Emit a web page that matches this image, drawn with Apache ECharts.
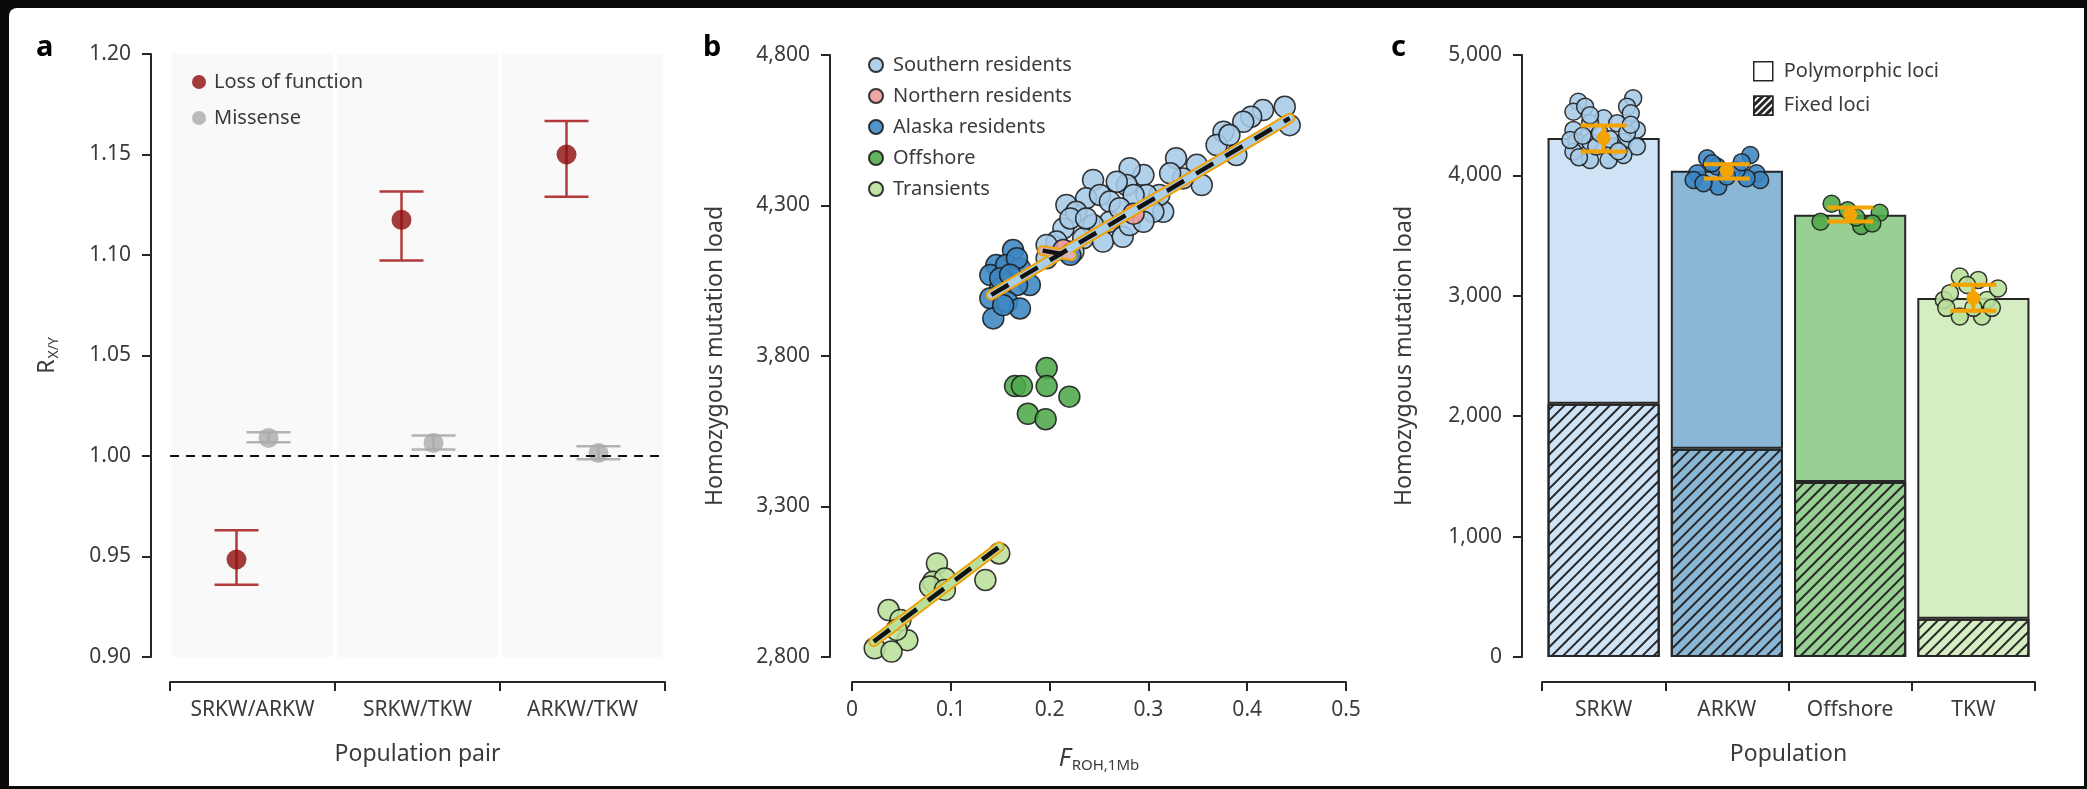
<!DOCTYPE html>
<html style="height: 100%">
<head>
<meta charset="utf-8">
<title>Homozygous mutation load</title>
<script src="https://cdn.jsdelivr.net/npm/echarts/dist/echarts.min.js"></script>
</head>
<body style="height: 100%; margin: 0; background: #0a0a0a">
<div id="target" style="width: 2087px; height: 789px"></div>
<script>

// ---- panel a : R X/Y per population pair
const pairs = ['SRKW/ARKW', 'SRKW/TKW', 'ARKW/TKW'];
const lofMean = [0.9485, 1.1175, 1.150];
const lofLow = [0.936, 1.0973, 1.129];
const lofHigh = [0.963, 1.1316, 1.1667];
const misMean = [1.009, 1.0065, 1.0015];
const misLow = [1.0068, 1.0032, 0.9984];
const misHigh = [1.0118, 1.0102, 1.0048];

// ---- panel b : F_ROH vs homozygous load
const southern = [
    [0.438, 4628], [0.443, 4567], [0.416, 4617], [0.404, 4595], [0.396, 4578], [0.376, 4545],
    [0.369, 4501], [0.389, 4468], [0.382, 4534], [0.328, 4457], [0.349, 4435], [0.354, 4368],
    [0.335, 4390], [0.322, 4407], [0.315, 4279], [0.311, 4335], [0.295, 4401], [0.281, 4424],
    [0.298, 4335], [0.278, 4368], [0.268, 4379], [0.244, 4385], [0.237, 4324], [0.217, 4302],
    [0.227, 4279], [0.251, 4335], [0.261, 4313], [0.285, 4335], [0.305, 4279], [0.261, 4246],
    [0.244, 4235], [0.214, 4224], [0.207, 4180], [0.197, 4169], [0.234, 4191], [0.254, 4180],
    [0.274, 4196], [0.281, 4235], [0.295, 4246], [0.271, 4291], [0.221, 4257], [0.237, 4257],
    [0.197, 4125], [0.224, 4147]
];
const northern = [[0.285, 4273], [0.214, 4152]];
const alaska = [
    [0.163, 4152], [0.146, 4102], [0.140, 4069], [0.156, 4102], [0.170, 4091], [0.180, 4036],
    [0.167, 4036], [0.150, 4025], [0.140, 3992], [0.157, 3980], [0.170, 3958], [0.143, 3925],
    [0.153, 3969], [0.167, 4125], [0.150, 4058], [0.160, 4070], [0.221, 4136]
];
const offshore = [[0.165, 3700], [0.172, 3700], [0.197, 3760], [0.197, 3700], [0.220, 3665], [0.178, 3608], [0.196, 3590]];
const transients = [
    [0.086, 3111], [0.082, 3050], [0.094, 3061], [0.079, 3034], [0.094, 3023], [0.135, 3056],
    [0.037, 2956], [0.049, 2923], [0.056, 2856], [0.023, 2829], [0.040, 2818], [0.045, 2890],
    [0.149, 3144]
];
const residentFit = [[0.141, 4003], [0.443, 4590]];
const northernFit = [[0.193, 4150], [0.222, 4134]];
const transientFit = [[0.022, 2851], [0.149, 3166]];

// ---- panel c : load per population
const pops = ['SRKW', 'ARKW', 'Offshore', 'TKW'];
const totalLoad = [4311, 4039, 3674, 2982];
const fixedLoad = [2104, 1730, 1453, 318];
const sdLow = [4199, 3975, 3618, 2876];
const sdHigh = [4415, 4093, 3734, 3092];
// [offset within category, load] for each individual
const srkwPts = [
    [-0.205, 4612], [-0.245, 4529], [-0.15, 4571], [0.24, 4640], [0.19, 4571], [0.22, 4516],
    [0, 4475], [-0.11, 4433], [0.11, 4433], [-0.245, 4378], [0.27, 4378], [-0.22, 4280],
    [-0.11, 4280], [0.16, 4280], [0.27, 4239], [-0.245, 4197], [-0.11, 4128], [0.04, 4128],
    [0.16, 4170], [-0.06, 4239], [0.08, 4239], [-0.03, 4350], [0.19, 4350], [-0.27, 4294],
    [-0.11, 4500], [0.05, 4300], [-0.17, 4330], [0.12, 4200], [-0.2, 4150], [0.22, 4420]
];
const arkwPts = [
    [-0.16, 4142], [-0.24, 4018], [-0.27, 3962], [-0.08, 4073], [-0.07, 3907], [-0.19, 3935],
    [0.19, 4170], [0.24, 4018], [0.27, 3962], [0.16, 3976], [0.08, 4045], [0, 3990],
    [-0.12, 4100], [0.12, 4110]
];
const offshorePts = [[-0.15, 3765], [-0.24, 3615], [-0.02, 3710], [0.09, 3580], [0.24, 3690], [0.05, 3650], [0.18, 3600]];
const tkwPts = [
    [-0.11, 3160], [0.04, 3132], [-0.24, 2966], [0.11, 2966], [-0.11, 2828], [0.07, 2828],
    [-0.19, 3022], [0.2, 3060], [0, 2900], [-0.05, 3090], [0.15, 2900], [-0.22, 2900]
];

const FONT = 'Noto Sans';
const INK = '#262626';
const LABEL = '#3b3b3b';
const popColors = ['#cfe3f6', '#8bb7d7', '#98cf93', '#d6edc3'];
const ptColors = ['#a6cae6', '#3c86c1', '#4ea84a', '#b9e09b'];
const DODGE = 16;

let chart = echarts.init(document.getElementById('target'));

function axisBase(extra) {
    return Object.assign({
        axisLine: { show: true, onZero: false, lineStyle: { color: INK, width: 2 } },
        axisTick: { show: true, length: 9, lineStyle: { color: INK, width: 2 } },
        axisLabel: { color: LABEL, fontSize: 21, fontFamily: FONT, margin: 18 },
        splitLine: { show: false },
        nameTextStyle: { color: LABEL, fontSize: 23, fontFamily: FONT },
    }, extra);
}

function pairBar(color, dodge) {
    return function (params, api) {
        const i = api.value(0);
        const lo = api.coord([i, api.value(1)]);
        const hi = api.coord([i, api.value(2)]);
        const x = lo[0] + dodge;
        const w = 22;
        const st = { stroke: color, lineWidth: 2.5 };
        return {
            type: 'group',
            children: [
                { type: 'line', shape: { x1: x, y1: hi[1], x2: x, y2: lo[1] }, style: st },
                { type: 'line', shape: { x1: x - w, y1: hi[1], x2: x + w, y2: hi[1] }, style: st },
                { type: 'line', shape: { x1: x - w, y1: lo[1], x2: x + w, y2: lo[1] }, style: st },
            ],
        };
    };
}

function sdBar(params, api) {
    const i = api.value(0);
    const lo = api.coord([i, api.value(1)]);
    const hi = api.coord([i, api.value(2)]);
    const mid = api.coord([i, api.value(3)]);
    const x = mid[0];
    const w = 23;
    const st = { stroke: '#f5a300', lineWidth: 4 };
    return {
        type: 'group',
        children: [
            { type: 'line', shape: { x1: x, y1: hi[1], x2: x, y2: lo[1] }, style: st },
            { type: 'line', shape: { x1: x - w, y1: hi[1], x2: x + w, y2: hi[1] }, style: st },
            { type: 'line', shape: { x1: x - w, y1: lo[1], x2: x + w, y2: lo[1] }, style: st },
            { type: 'circle', shape: { cx: x, cy: mid[1], r: 7 }, style: { fill: '#f5a300' } },
        ],
    };
}

function fitLayers(name, data, inner) {
    const base = { type: 'line', xAxisIndex: 1, yAxisIndex: 1, data: data, symbol: 'none', silent: true, animation: false };
    return [
        Object.assign({}, base, { z: 5, lineStyle: { color: '#f2a104', width: 11, cap: 'round' } }),
        Object.assign({}, base, { z: 6, lineStyle: { color: inner, width: 7, cap: 'round' } }),
        Object.assign({}, base, { z: 7, lineStyle: { color: '#111', width: 4.5, type: [20, 14] } }),
    ];
}

function pointSeries(name, data, color, size, xi, yi) {
    return {
        name: name, type: 'scatter', xAxisIndex: xi, yAxisIndex: yi,
        symbolSize: size, data: data, z: 3,
        itemStyle: { color: color, borderColor: '#1b1b1b', borderWidth: 1.5, opacity: 0.88 },
    };
}

const hatch = {
    symbol: 'rect', symbolSize: 1,
    dashArrayX: [1, 0], dashArrayY: [2, 6],
    rotation: -Math.PI / 4, color: '#262626',
};
// the legend swatch is a denser version of the same hatch
const hatchIcon = {
    symbol: 'rect', symbolSize: 1,
    dashArrayX: [1, 0], dashArrayY: [3, 2],
    rotation: -Math.PI / 4, color: '#262626',
};

const withOffset = (pts, i) => pts.map(p => [i + p[0], p[1]]);

let option = {
    animation: false,
    backgroundColor: '#0a0a0a',
    textStyle: { fontFamily: FONT },
    graphic: {
        elements: [
            { type: 'rect', z: -100, silent: true, shape: { x: 9, y: 8, width: 2075, height: 778, r: [8, 0, 0, 0] }, style: { fill: '#fff' } },
            { type: 'text', left: 36, top: 33, style: { text: 'a', font: 'bold 29px "Noto Sans"', fill: '#000' } },
            { type: 'text', left: 703, top: 33, style: { text: 'b', font: 'bold 29px "Noto Sans"', fill: '#000' } },
            { type: 'text', left: 1391, top: 33, style: { text: 'c', font: 'bold 29px "Noto Sans"', fill: '#000' } },
        ],
    },
    legend: [
        {
            data: ['Loss of function', 'Missense'], orient: 'vertical', left: 192, top: 72, padding: 0,
            itemWidth: 14, itemHeight: 14, itemGap: 16, icon: 'circle',
            textStyle: { color: LABEL, fontSize: 20, fontFamily: FONT, padding: [0, 0, 0, 3] },
        },
        {
            data: ['Southern residents', 'Northern residents', 'Alaska residents', 'Offshore', 'Transients'],
            orient: 'vertical', left: 868, top: 55, padding: 0,
            itemWidth: 14, itemHeight: 14, itemGap: 11, icon: 'circle',
            textStyle: { color: LABEL, fontSize: 20, fontFamily: FONT, padding: [0, 0, 0, 5] },
        },
        {
            data: [
                { name: 'Polymorphic loci', itemStyle: { color: '#fff', borderColor: INK, borderWidth: 1.5 } },
                { name: 'Fixed loci', itemStyle: { color: '#fff', borderColor: INK, borderWidth: 1.5, decal: hatchIcon } },
            ],
            orient: 'vertical', left: 1753, top: 61, padding: 0,
            itemWidth: 19, itemHeight: 19, itemGap: 14, icon: 'rect',
            textStyle: { color: LABEL, fontSize: 20, fontFamily: FONT, padding: [0, 0, 0, 6] },
        },
    ],
    grid: [
        { left: 170, top: 54, width: 495, height: 603, containLabel: false, outerBoundsMode: 'none' },
        { left: 852, top: 55, width: 494, height: 602, containLabel: false, outerBoundsMode: 'none' },
        { left: 1542, top: 55, width: 493, height: 602, containLabel: false, outerBoundsMode: 'none' },
    ],
    xAxis: [
        axisBase({
            gridIndex: 0, type: 'category', data: pairs, offset: 25,
            name: 'Population pair', nameLocation: 'middle', nameGap: 61,
            splitArea: { show: true, areaStyle: { color: ['#f9f9f9'] } },
            splitLine: { show: true, lineStyle: { color: '#fff', width: 4 } },
        }),
        axisBase({
            gridIndex: 1, type: 'value', min: 0, max: 0.5, interval: 0.1, offset: 25,
            axisLabel: { color: LABEL, fontSize: 21, fontFamily: FONT, margin: 18, formatter: v => v === 0 ? '0' : v.toFixed(1) },
            name: '{f|F}{s|ROH,1Mb}', nameLocation: 'middle', nameGap: 62,
            nameTextStyle: {
                color: LABEL, fontFamily: FONT,
                rich: {
                    f: { fontSize: 25, fontStyle: 'italic', color: LABEL, fontFamily: FONT },
                    s: { fontSize: 15, color: LABEL, fontFamily: FONT, padding: [14, 0, 0, 1] },
                },
            },
        }),
        axisBase({
            gridIndex: 2, type: 'category', data: pops, offset: 25,
            name: 'Population', nameLocation: 'middle', nameGap: 61,
        }),
        { gridIndex: 2, type: 'value', min: -0.5, max: 3.5, show: false },
    ],
    yAxis: [
        axisBase({
            gridIndex: 0, type: 'value', min: 0.9, max: 1.2, interval: 0.05, offset: 19,
            axisLabel: { color: LABEL, fontSize: 21, fontFamily: FONT, margin: 20, formatter: v => v.toFixed(2) },
            name: '{r|R}{s|X/Y}', nameLocation: 'middle', nameGap: 90,
            nameTextStyle: {
                color: LABEL, fontFamily: FONT,
                rich: {
                    r: { fontSize: 23, color: LABEL, fontFamily: FONT },
                    s: { fontSize: 14, color: LABEL, fontFamily: FONT, padding: [14, 0, 0, 1] },
                },
            },
        }),
        axisBase({
            gridIndex: 1, type: 'value', min: 2800, max: 4800, interval: 500, offset: 22,
            axisLabel: { color: LABEL, fontSize: 21, fontFamily: FONT, margin: 20, formatter: v => v.toLocaleString('en-US') },
            name: 'Homozygous mutation load', nameLocation: 'middle', nameGap: 103,
        }),
        axisBase({
            gridIndex: 2, type: 'value', min: 0, max: 5000, interval: 1000, offset: 20,
            axisLabel: { color: LABEL, fontSize: 21, fontFamily: FONT, margin: 20, formatter: v => v.toLocaleString('en-US') },
            name: 'Homozygous mutation load', nameLocation: 'middle', nameGap: 106,
        }),
    ],
    series: [
        // panel a
        {
            type: 'custom', xAxisIndex: 0, yAxisIndex: 0, z: 2, silent: true,
            renderItem: pairBar('#b33a3a', -DODGE),
            encode: { x: 0, y: [1, 2] },
            data: pairs.map((p, i) => [i, lofLow[i], lofHigh[i]]),
        },
        {
            type: 'custom', xAxisIndex: 0, yAxisIndex: 0, z: 2, silent: true,
            renderItem: pairBar('#b3b3b3', DODGE),
            encode: { x: 0, y: [1, 2] },
            data: pairs.map((p, i) => [i, misLow[i], misHigh[i]]),
        },
        {
            name: 'Loss of function', type: 'scatter', xAxisIndex: 0, yAxisIndex: 0, z: 3,
            symbolSize: 20, symbolOffset: [-DODGE, 0], data: lofMean,
            itemStyle: { color: '#8e0b0b' },
        },
        {
            name: 'Missense', type: 'scatter', xAxisIndex: 0, yAxisIndex: 0, z: 3,
            symbolSize: 20, symbolOffset: [DODGE, 0], data: misMean,
            itemStyle: { color: '#aaaaaa' },
            markLine: {
                silent: true, symbol: 'none', label: { show: false },
                lineStyle: { color: '#111', width: 2, type: [9, 7] },
                data: [{ yAxis: 1 }],
            },
        },
        // panel b
        pointSeries('Southern residents', southern, ptColors[0], 21, 1, 1),
        pointSeries('Northern residents', northern, '#ec9896', 21, 1, 1),
        pointSeries('Alaska residents', alaska, ptColors[1], 21, 1, 1),
        pointSeries('Offshore', offshore, ptColors[2], 21, 1, 1),
        pointSeries('Transients', transients, ptColors[3], 21, 1, 1),
        ...fitLayers('resident fit', residentFit, '#a9cfe8'),
        ...fitLayers('northern fit', northernFit, '#d9b3b3'),
        ...fitLayers('transient fit', transientFit, '#b9e09b'),
        // panel c
        {
            name: 'Fixed loci', type: 'bar', xAxisIndex: 2, yAxisIndex: 2, stack: 'load',
            barCategoryGap: '9%', z: 2,
            itemStyle: { color: '#fff', borderColor: INK, borderWidth: 2, decal: hatch },
            data: fixedLoad.map((v, i) => ({ value: v, itemStyle: { color: popColors[i] } })),
        },
        {
            name: 'Polymorphic loci', type: 'bar', xAxisIndex: 2, yAxisIndex: 2, stack: 'load',
            barCategoryGap: '9%', z: 2,
            itemStyle: { color: '#fff', borderColor: INK, borderWidth: 2 },
            data: totalLoad.map((v, i) => ({ value: v - fixedLoad[i], itemStyle: { color: popColors[i] } })),
        },
        pointSeries('SRKW ind', withOffset(srkwPts, 0), ptColors[0], 17, 3, 2),
        pointSeries('ARKW ind', withOffset(arkwPts, 1), ptColors[1], 17, 3, 2),
        pointSeries('Offshore ind', withOffset(offshorePts, 2), ptColors[2], 17, 3, 2),
        pointSeries('TKW ind', withOffset(tkwPts, 3), ptColors[3], 17, 3, 2),
        {
            type: 'custom', xAxisIndex: 2, yAxisIndex: 2, z: 6, silent: true,
            renderItem: sdBar,
            encode: { x: 0, y: [1, 2, 3] },
            data: pops.map((p, i) => [i, sdLow[i], sdHigh[i], totalLoad[i]]),
        },
    ],
};

chart.setOption(option);

</script>
</body>
</html>
